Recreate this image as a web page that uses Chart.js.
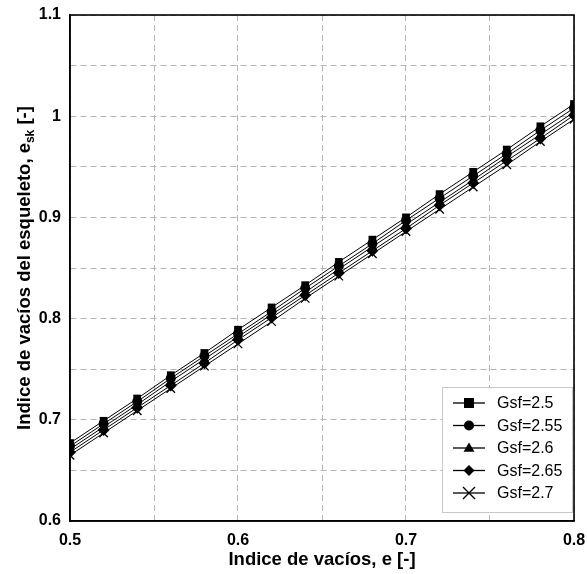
<!DOCTYPE html>
<html>
<head>
<meta charset="utf-8">
<script src="https://cdn.jsdelivr.net/npm/chart.js@4"></script>
<style>
	html, body { margin: 0; padding: 0; background: #fff; }
	#wrap { width: 587px; height: 574px; }
</style>
</head>
<body>
<div id="wrap"><canvas id="chart" width="587" height="574"></canvas></div>
<script>
const voidRatio = [0.5, 0.52, 0.54, 0.56, 0.58, 0.6, 0.62, 0.64, 0.66, 0.68, 0.7, 0.72, 0.74, 0.76, 0.78, 0.8]

const gsf250 = [0.677, 0.699, 0.721, 0.744, 0.766, 0.789, 0.811, 0.833, 0.856, 0.878, 0.900, 0.923, 0.945, 0.967, 0.990, 1.012]
const gsf255 = [0.674, 0.696, 0.718, 0.741, 0.763, 0.785, 0.807, 0.830, 0.852, 0.874, 0.897, 0.919, 0.941, 0.963, 0.986, 1.008]
const gsf260 = [0.671, 0.693, 0.715, 0.738, 0.760, 0.782, 0.804, 0.826, 0.849, 0.871, 0.893, 0.915, 0.937, 0.960, 0.982, 1.004]
const gsf265 = [0.668, 0.690, 0.712, 0.734, 0.756, 0.779, 0.801, 0.823, 0.845, 0.867, 0.889, 0.912, 0.934, 0.956, 0.978, 1.001]
const gsf270 = [0.665, 0.687, 0.709, 0.731, 0.753, 0.775, 0.797, 0.820, 0.842, 0.864, 0.886, 0.908, 0.930, 0.952, 0.975, 0.997]

const seriesLabels = ['Gsf=2.5', 'Gsf=2.55', 'Gsf=2.6', 'Gsf=2.65', 'Gsf=2.7']
const seriesValues = [gsf250, gsf255, gsf260, gsf265, gsf270]
const seriesMarkers = ['rect', 'circle', 'triangle', 'rectRot', 'crossRot']
const markerSizes = [5.5, 5, 5.5, 6, 6]
const legendSizes = [5, 5, 5.5, 5.5, 6]

const xTicks = [0.5, 0.6, 0.7, 0.8]
const yTicks = [0.6, 0.7, 0.8, 0.9, 1, 1.1]

const FONT = '"Liberation Sans", Arial, sans-serif'

function isMajor(v, list) {
	return list.some(t => Math.abs(t - v) < 1e-6)
}

function fmt(v) {
	return String(Math.round(v * 10) / 10)
}

// simple marker drawing for the custom legend
function drawMarker(ctx, style, x, y, r) {
	ctx.beginPath()
	if (style === 'rect') {
		ctx.rect(x - r, y - r, 2 * r, 2 * r)
		ctx.fill()
	} else if (style === 'circle') {
		ctx.arc(x, y, r, 0, Math.PI * 2)
		ctx.fill()
	} else if (style === 'triangle') {
		ctx.moveTo(x, y - r)
		ctx.lineTo(x + r, y + r * 0.7)
		ctx.lineTo(x - r, y + r * 0.7)
		ctx.closePath()
		ctx.fill()
	} else if (style === 'rectRot') {
		ctx.moveTo(x, y - r)
		ctx.lineTo(x + r, y)
		ctx.lineTo(x, y + r)
		ctx.lineTo(x - r, y)
		ctx.closePath()
		ctx.fill()
	} else {
		ctx.lineWidth = 1.4
		ctx.moveTo(x - r, y - r)
		ctx.lineTo(x + r, y + r)
		ctx.moveTo(x + r, y - r)
		ctx.lineTo(x - r, y + r)
		ctx.stroke()
	}
}

const framePlugin = {
	id: 'frame',
	afterDatasetsDraw(chart) {
		const {ctx, chartArea: a} = chart
		ctx.save()
		ctx.strokeStyle = '#000'
		ctx.lineWidth = 1.6
		ctx.strokeRect(a.left, a.top, a.right - a.left, a.bottom - a.top)

		// y axis title with subscript
		ctx.fillStyle = '#000'
		ctx.translate(25, (a.top + a.bottom) / 2)
		ctx.rotate(-Math.PI / 2)
		const main = 'Indice de vacíos del esqueleto, e'
		const sub = 'sk'
		const tail = ' [-]'
		ctx.font = 'bold 18.5px ' + FONT
		const w1 = ctx.measureText(main).width
		const w3 = ctx.measureText(tail).width
		ctx.font = 'bold 12px ' + FONT
		const w2 = ctx.measureText(sub).width
		let x0 = -(w1 + w2 + w3) / 2
		ctx.textBaseline = 'middle'
		ctx.textAlign = 'left'
		ctx.font = 'bold 18.5px ' + FONT
		ctx.fillText(main, x0, 0)
		ctx.font = 'bold 12px ' + FONT
		ctx.fillText(sub, x0 + w1, 6)
		ctx.font = 'bold 18.5px ' + FONT
		ctx.fillText(tail, x0 + w1 + w2, 0)
		ctx.restore()
	},
	afterDraw(chart) {
		const {ctx} = chart
		const box = {x: 442, y: 387, w: 130, h: 125}
		ctx.save()
		ctx.fillStyle = '#fff'
		ctx.fillRect(box.x, box.y, box.w, box.h)
		ctx.strokeStyle = '#c8c8c8'
		ctx.lineWidth = 1
		ctx.strokeRect(box.x + 0.5, box.y + 0.5, box.w, box.h)
		ctx.font = '16px ' + FONT
		ctx.textBaseline = 'middle'
		seriesLabels.forEach((label, i) => {
			const cy = box.y + 16 + i * 22.5
			ctx.strokeStyle = '#000'
			ctx.fillStyle = '#000'
			ctx.lineWidth = 1.3
			ctx.beginPath()
			ctx.moveTo(box.x + 11, cy)
			ctx.lineTo(box.x + 43, cy)
			ctx.stroke()
			drawMarker(ctx, seriesMarkers[i], box.x + 27, cy, legendSizes[i])
			ctx.fillText(label, box.x + 55, cy + 1)
		})
		ctx.restore()
	}
}

const datasets = seriesLabels.map((label, i) => ({
	label: label,
	data: voidRatio.map((x, j) => ({x: x, y: seriesValues[i][j]})),
	borderColor: '#000',
	backgroundColor: '#000',
	borderWidth: 1,
	pointStyle: seriesMarkers[i],
	pointRadius: markerSizes[i],
	pointHoverRadius: markerSizes[i],
	pointBorderWidth: seriesMarkers[i] === 'crossRot' ? 1.3 : 0,
	pointBorderColor: '#000',
	showLine: true,
	tension: 0
}))

const gridOpts = {
	color: '#b4b4b4',
	lineWidth: 1,
	drawTicks: false
}

new Chart(document.getElementById('chart'), {
	type: 'scatter',
	data: {datasets: datasets},
	options: {
		responsive: false,
		animation: false,
		events: [],
		layout: {padding: {top: 15, right: 13, left: 0, bottom: 0}},
		plugins: {
			legend: {display: false},
			tooltip: {enabled: false}
		},
		scales: {
			x: {
				type: 'linear',
				min: 0.5,
				max: 0.8,
				afterFit(scale) {
					scale.height = 53
					scale.paddingLeft = 0
					scale.paddingRight = 0
				},
				afterBuildTicks(scale) {
					const t = []
					for (let k = 0; k <= 6; k++) t.push({value: 0.5 + k * 0.05})
					scale.ticks = t
				},
				grid: gridOpts,
				border: {display: true, color: '#000', width: 1.5, dash: [6, 4]},
				ticks: {
					color: '#000',
					font: {family: FONT, size: 16, weight: 'bold'},
					padding: 10,
					maxRotation: 0,
					autoSkip: false,
					callback: v => isMajor(v, xTicks) ? fmt(v) : ''
				},
				title: {
					display: true,
					text: 'Indice de vacíos, e [-]',
					color: '#000',
					font: {family: FONT, size: 18.5, weight: 'bold'},
					padding: {top: 0, bottom: 3}
				}
			},
			y: {
				type: 'linear',
				min: 0.6,
				max: 1.1,
				afterFit(scale) {
					scale.width = 70
					scale.paddingTop = 0
					scale.paddingBottom = 0
				},
				afterBuildTicks(scale) {
					const t = []
					for (let k = 0; k <= 10; k++) t.push({value: 0.6 + k * 0.05})
					scale.ticks = t
				},
				grid: gridOpts,
				border: {display: true, color: '#000', width: 1.5, dash: [6, 4]},
				ticks: {
					color: '#000',
					font: {family: FONT, size: 16, weight: 'bold'},
					padding: 9,
					autoSkip: false,
					callback: v => isMajor(v, yTicks) ? fmt(v) : ''
				}
			}
		}
	},
	plugins: [framePlugin]
})
</script>
</body>
</html>
